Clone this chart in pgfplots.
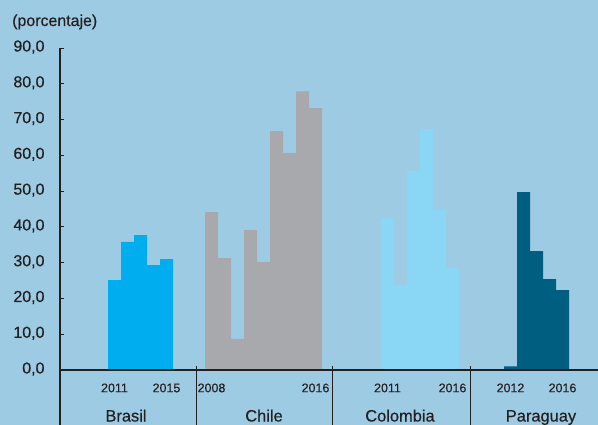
\documentclass[border=0pt]{standalone}
\usepackage{pgfplots}
\pgfplotsset{compat=1.18}
\usepackage{fontspec}
\setmainfont{Liberation Sans}[FakeBold=0.4]

\definecolor{fondo}{RGB}{157,203,227}
\definecolor{brasil}{RGB}{0,174,239}
\definecolor{chile}{RGB}{167,169,172}
\definecolor{colombia}{RGB}{138,215,245}
\definecolor{paraguay}{RGB}{0,94,128}
\definecolor{texto}{RGB}{35,31,32}

% x in bp from the y axis, one bar = 13 wide
\pgfplotstableread{
x y
54.5 25.1
67.5 35.8
80.5 37.7
93.5 29.3
106.5 31.0
}\brasil
\pgfplotstableread{
x y
151.5 44.1
164.5 31.3
177.5 8.7
190.5 39.1
203.5 30.2
216.5 66.8
229.5 60.6
242.5 77.9
255.5 73.2
}\chile
\pgfplotstableread{
x y
327.5 42.5
340.5 23.7
353.5 55.6
366.5 67.3
379.5 44.7
392.5 28.5
}\colombia
\pgfplotstableread{
x y
450.5 1.0
463.5 49.7
476.5 33.2
489.5 25.4
502.5 22.3
}\paraguay

\begin{document}
\begin{tikzpicture}
\fill[fondo] (-60bp,-55bp) rectangle (538bp,370bp);
\begin{axis}[
    scale only axis,
    width=538bp, height=322bp,
    xmin=0, xmax=538, ymin=0, ymax=90,
    axis lines*=left,
    axis line style={texto, line width=1.1pt},
    axis on top, clip=false,
    ytick={0,10,...,90},
    ytick style={texto, line width=0.8pt},
    major tick length=4bp,
    yticklabel style={font=\fontsize{16}{19}\selectfont, text=texto,
        anchor=east, xshift=-12bp, yshift=1bp,
        /pgf/number format/.cd, fixed, fixed zerofill, precision=1, use comma,
        assume math mode=true},
    xtick={54.5,106.5,151.5,255.5,327.5,392.5,450.5,502.5},
    xticklabels={2011,2015,2008,2016,2011,2016,2012,2016},
    xticklabel style={font=\fontsize{12.5}{15}\selectfont, text=texto, yshift=-10bp},
    xtick style={draw=none},
    every axis plot/.append style={ybar, bar width=13, bar shift=0pt, draw=none},
]
\addplot[fill=brasil] table {\brasil};
\addplot[fill=chile] table {\chile};
\addplot[fill=colombia] table {\colombia};
\addplot[fill=paraguay] table {\paraguay};

\draw[texto, line width=1.1pt] (axis cs:0,0) -- ++(0,-56bp);
\draw[texto, line width=0.8pt] (axis cs:136,0) ++(0,4bp) -- ++(0,-60bp);
\draw[texto, line width=0.8pt] (axis cs:272,0) ++(0,4bp) -- ++(0,-60bp);
\draw[texto, line width=0.8pt] (axis cs:410,0) ++(0,4bp) -- ++(0,-60bp);
\begin{scope}[every node/.style={font=\fontsize{16.5}{19}\selectfont, text=texto, anchor=base}]
\node at (axis cs:66,0) [yshift=-51.5bp] {Brasil};
\node at (axis cs:204,0) [yshift=-51.5bp] {Chile};
\node at (axis cs:340,0) [yshift=-51.5bp] {Colombia};
\node at (axis cs:481,0) [yshift=-51.5bp] {Paraguay};
\end{scope}
\end{axis}
\node[font=\fontsize{16}{19}\selectfont, text=texto, anchor=base west, inner sep=0pt] at (-48bp,344bp) {(porcentaje)};
\pgfresetboundingbox
\path[use as bounding box] (-60bp,-55bp) rectangle (538bp,370bp);
\end{tikzpicture}
\end{document}
